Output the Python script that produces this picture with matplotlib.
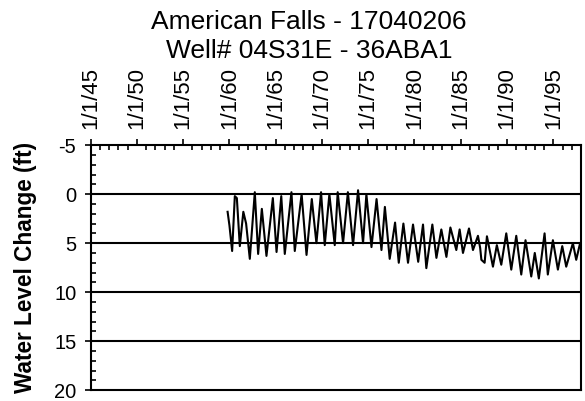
import matplotlib
matplotlib.use("Agg")
import matplotlib.pyplot as plt
from matplotlib.ticker import MultipleLocator, FixedLocator

plt.rcParams['font.family'] = ['Liberation Sans', 'DejaVu Sans']

title_lines = ["American Falls - 17040206", "Well# 04S31E - 36ABA1"]
y_label = "Water Level Change (ft)"

# decimal year of each measurement and water level change (ft)
years = [1959.8, 1960.0, 1960.29, 1960.58, 1960.8, 1961.12, 1961.5, 1961.8, 1962.2,
         1962.74, 1963.1, 1963.5, 1964.0, 1964.69, 1965.09, 1965.6, 1965.98, 1966.7,
         1967.06, 1967.8, 1968.33, 1968.9, 1969.4, 1969.9, 1970.3, 1970.8, 1971.38,
         1971.7, 1972.28, 1972.8, 1973.36, 1973.9, 1974.44, 1974.8, 1975.35, 1975.9,
         1976.43, 1976.8, 1977.32, 1977.9, 1978.3, 1978.8, 1979.3, 1979.84, 1980.4,
         1980.92, 1981.28, 1981.93, 1982.37, 1982.9, 1983.45, 1983.88, 1984.52,
         1984.88, 1985.24, 1985.89, 1986.32, 1986.86, 1987.1, 1987.23, 1987.58,
         1987.83, 1988.48, 1988.9, 1989.38, 1989.92, 1990.46, 1991.0, 1991.54,
         1992.0, 1992.62, 1993.0, 1993.44, 1994.06, 1994.41, 1994.96, 1995.5,
         1995.97, 1996.4, 1997.12, 1997.48, 1997.9]
levels = [1.8, 3.2, 5.8, 0.2, 0.4, 5.3, 1.8, 3.0, 6.6,
          -0.2, 6.1, 1.5, 6.3, 0.4, 5.9, 0.2, 6.1, -0.2,
          5.8, 0.0, 6.2, 0.5, 5.0, -0.2, 5.2, 0.0, 5.2,
          -0.2, 5.0, -0.2, 5.2, -0.4, 5.0, 0.0, 5.4, 0.5,
          5.7, 1.3, 6.6, 2.9, 7.0, 3.0, 7.0, 3.1, 6.9,
          3.1, 7.55, 3.1, 6.5, 3.6, 6.4, 3.4, 5.7,
          3.6, 6.0, 3.5, 5.7, 4.25, 5.5, 6.7, 7.0,
          4.3, 7.4, 5.2, 7.2, 4.0, 7.7, 4.25, 8.2,
          4.7, 8.4, 6.0, 8.6, 4.0, 8.2, 4.7, 7.7,
          5.3, 7.4, 5.0, 6.7, 5.0]

x_tick_years = [1945, 1950, 1955, 1960, 1965, 1970, 1975, 1980, 1985, 1990, 1995]
x_tick_labels = ["1/1/45", "1/1/50", "1/1/55", "1/1/60", "1/1/65", "1/1/70",
                 "1/1/75", "1/1/80", "1/1/85", "1/1/90", "1/1/95"]
y_ticks = [-5, 0, 5, 10, 15, 20]

fig = plt.figure(figsize=(5.85, 4.01), dpi=100)
ax = fig.add_axes([0.155, 0.027, 0.839, 0.611])

ax.plot(years, levels, color='black', lw=1.5, zorder=3)

ax.set_xlim(1945.0, 1998.05)
ax.set_ylim(20, -5)

for g in [0, 5, 10, 15]:
    ax.axhline(g, color='black', lw=1.5, zorder=2)

ax.xaxis.tick_top()
ax.xaxis.set_major_locator(FixedLocator(x_tick_years))
ax.set_xticklabels(x_tick_labels, rotation=90, fontsize=16)
ax.xaxis.set_minor_locator(MultipleLocator(1))
ax.tick_params(axis='x', which='major', direction='out', length=4.3, width=1.2, pad=7.5)
ax.tick_params(axis='x', which='minor', direction='in', length=3.6, width=1.2, top=True, bottom=False)

ax.set_yticks(y_ticks)
ax.set_yticklabels([str(v) for v in y_ticks], fontsize=14.5)
ax.yaxis.set_minor_locator(MultipleLocator(1))
ax.tick_params(axis='y', which='major', direction='out', length=4.3, width=1.2, pad=6)
ax.tick_params(axis='y', which='minor', direction='in', length=3.6, width=1.2)

for s in ax.spines.values():
    s.set_linewidth(1.5)
    s.set_color('black')

fig.text(0.043, 0.332, y_label, rotation=90, ha='center', va='center',
         fontsize=16.3, fontweight='bold')
fig.text(0.528, 0.945, title_lines[0], ha='center', va='center', fontsize=19)
fig.text(0.528, 0.873, title_lines[1], ha='center', va='center', fontsize=19)

fig.savefig("out.png", dpi=100)
